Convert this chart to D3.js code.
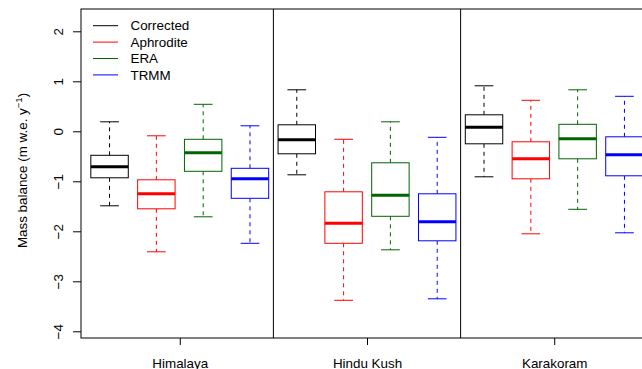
<!DOCTYPE html>
<html>
<head>
<meta charset="utf-8">
<script src="https://cdn.jsdelivr.net/npm/d3@7"></script>
<style>
  body { margin: 0; background: #fff; }
  text { font-family: "Liberation Sans", Arial, sans-serif; }
</style>
</head>
<body>
<div id="chart-area"></div>
<script>
// Data: one entry per box, ordered region by region, source by source
var regions = ["Himalaya", "Hindu Kush", "Karakoram"];
var sources = ["Corrected", "Aphrodite", "ERA", "TRMM"];
var whiskerLow  = [-1.49, -2.41, -1.71, -2.24,  -0.87, -3.38, -2.37, -3.35,  -0.91, -2.05, -1.56, -2.03];
var quartile1   = [-0.93, -1.55, -0.80, -1.34,  -0.45, -2.24, -1.70, -2.19,  -0.25, -0.95, -0.55, -0.89];
var medians     = [-0.71, -1.25, -0.43, -0.95,  -0.17, -1.84, -1.28, -1.81,   0.08, -0.55, -0.15, -0.47];
var quartile3   = [-0.48, -0.97, -0.16, -0.74,   0.13, -1.21, -0.63, -1.25,   0.33, -0.21,  0.14, -0.11];
var whiskerHigh = [ 0.19, -0.09,  0.54,  0.11,   0.83, -0.16,  0.19, -0.12,   0.91,  0.62,  0.83,  0.70];
var yTicks = [-4, -3, -2, -1, 0, 1, 2];

var colors = ["#000000", "#ff0000", "#006400", "#0000ff"];

var boxes = medians.map(function(m, i) {
	return {
		pos: i + 1,
		source: i % 4,
		lo: whiskerLow[i], q1: quartile1[i], med: m, q3: quartile3[i], hi: whiskerHigh[i]
	};
});

// Canvas
var width = 642, height = 369;
var margin = {top: 9, left: 81, bottom: 338, right: 653};

var svg = d3.select("#chart-area").append("svg")
	.attr("width", width)
	.attr("height", height);

// Scales
var x = d3.scaleLinear().domain([0.39, 12.61]).range([margin.left, margin.right]);
var y = d3.scaleLinear().domain([-4, 2]).range([331.3, 31.3]);
var bw = (x(1.8) - x(1));

// Boxes
var g = svg.append("g");
var b = g.selectAll("g.box").data(boxes).enter().append("g")
	.attr("class", "box")
	.attr("stroke", function(d) { return colors[d.source]; })
	.attr("fill", "none");

// whiskers (dashed)
b.append("line")
	.attr("x1", function(d) { return x(d.pos); })
	.attr("x2", function(d) { return x(d.pos); })
	.attr("y1", function(d) { return y(d.q3); })
	.attr("y2", function(d) { return y(d.hi); })
	.attr("stroke-dasharray", "4,4");
b.append("line")
	.attr("x1", function(d) { return x(d.pos); })
	.attr("x2", function(d) { return x(d.pos); })
	.attr("y1", function(d) { return y(d.q1); })
	.attr("y2", function(d) { return y(d.lo); })
	.attr("stroke-dasharray", "4,4");

// staples
["hi", "lo"].forEach(function(k) {
	b.append("line")
		.attr("x1", function(d) { return x(d.pos) - bw / 4; })
		.attr("x2", function(d) { return x(d.pos) + bw / 4; })
		.attr("y1", function(d) { return y(d[k]); })
		.attr("y2", function(d) { return y(d[k]); });
});

b.append("rect")
	.attr("x", function(d) { return x(d.pos) - bw / 2; })
	.attr("y", function(d) { return y(d.q3); })
	.attr("width", bw)
	.attr("height", function(d) { return y(d.q1) - y(d.q3); })
	.attr("fill", "#fff");

b.append("line")
	.attr("x1", function(d) { return x(d.pos) - bw / 2; })
	.attr("x2", function(d) { return x(d.pos) + bw / 2; })
	.attr("y1", function(d) { return y(d.med); })
	.attr("y2", function(d) { return y(d.med); })
	.attr("stroke-width", 3);

// Region dividers
[4.5, 8.5].forEach(function(v) {
	svg.append("line")
		.attr("x1", x(v)).attr("x2", x(v))
		.attr("y1", margin.top).attr("y2", margin.bottom)
		.attr("stroke", "#000");
});

// Frame
svg.append("rect")
	.attr("x", margin.left)
	.attr("y", margin.top)
	.attr("width", margin.right - margin.left)
	.attr("height", margin.bottom - margin.top)
	.attr("fill", "none")
	.attr("stroke", "#000");

// Y axis
var yAxis = d3.axisLeft(y)
	.tickValues(yTicks)
	.tickSize(8)
	.tickFormat(function(d) { return d < 0 ? "\u2212" + Math.abs(d) : d; });
var ya = svg.append("g")
	.attr("transform", "translate(" + margin.left + ",0)")
	.call(yAxis);
ya.select(".domain").remove();
ya.selectAll("text")
	.attr("font-size", "13.4px")
	.attr("font-family", "Liberation Sans, Arial, sans-serif")
	.attr("fill", "#000")
	.attr("text-anchor", "middle")
	.attr("x", 0).attr("y", 0).attr("dy", null)
	.attr("transform", "translate(-18,0) rotate(-90)");

// X axis (region ticks)
var regionPos = [2.5, 6.5, 10.5];
var xAxis = d3.axisBottom(x)
	.tickValues(regionPos)
	.tickSize(7)
	.tickFormat(function(d, i) { return regions[i]; });
var xa = svg.append("g")
	.attr("transform", "translate(0," + margin.bottom + ")")
	.call(xAxis);
xa.select(".domain").remove();
xa.selectAll("text")
	.attr("font-size", "13.4px")
	.attr("font-family", "Liberation Sans, Arial, sans-serif")
	.attr("fill", "#000")
	.attr("y", 30).attr("dy", null);

// Y label
var yl = svg.append("text")
	.attr("transform", "translate(26.5," + ((margin.top + margin.bottom) / 2 - 3) + ") rotate(-90)")
	.attr("text-anchor", "middle")
	.attr("font-size", "13.4px");
yl.append("tspan").text("Mass balance (m w.e. y");
yl.append("tspan").attr("font-size", "9.5px").attr("dy", "-5").text("\u22121");
yl.append("tspan").attr("dy", "5").text(")");

// Legend
var lg = svg.append("g").attr("transform", "translate(93,25.7)");
sources.forEach(function(s, i) {
	lg.append("line")
		.attr("x1", 0).attr("x2", 25)
		.attr("y1", i * 16.4).attr("y2", i * 16.4)
		.attr("stroke", colors[i]);
	lg.append("text")
		.attr("x", 37.5)
		.attr("y", i * 16.4)
		.attr("dy", "0.35em")
		.attr("font-size", "13.4px")
		.text(s);
});
</script>
</body>
</html>
